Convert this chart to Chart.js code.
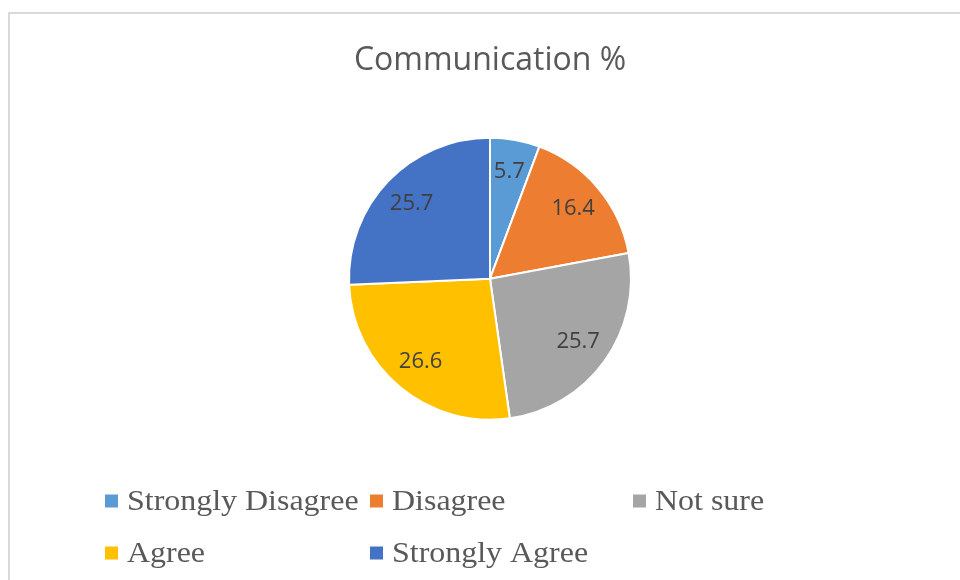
<!DOCTYPE html>
<html>
<head>
<meta charset="utf-8">
<title>Communication %</title>
<script src="https://cdn.jsdelivr.net/npm/chart.js@4/dist/chart.umd.min.js"></script>
<style>
  html, body { margin: 0; padding: 0; background: #fff; overflow: hidden; }
  .frame {
    position: absolute; left: 8px; top: 12px;
    width: 1000px; height: 620px;
    border-top: 2px solid #d9d9d9; border-left: 2px solid #d9d9d9;
  }
  #chart { position: absolute; left: 0; top: 0; }
</style>
</head>
<body>
<div class="frame"></div>
<canvas id="chart" width="960" height="580"></canvas>
<script>
// answers to the "communication" question, in percent
var categories = ['Strongly Disagree', 'Disagree', 'Not sure', 'Agree', 'Strongly Agree'];
var percents = [5.7, 16.4, 25.7, 26.6, 25.7];
var colors = ['#5B9BD5', '#ED7D31', '#A5A5A5', '#FFC000', '#4472C4'];

// value written inside each slice, toward the rim
var sliceLabels = {
    id: 'sliceLabels',
    afterDatasetsDraw: function (chart) {
        var ctx = chart.ctx;
        var meta = chart.getDatasetMeta(0);
        ctx.save();
        ctx.font = '22px "Open Sans"';
        ctx.fillStyle = '#404040';
        ctx.textAlign = 'center';
        ctx.textBaseline = 'middle';
        meta.data.forEach(function (arc, i) {
            var p = arc.getProps(['x', 'y', 'startAngle', 'endAngle', 'outerRadius'], true);
            var mid = (p.startAngle + p.endAngle) / 2;
            var r = p.outerRadius * 0.77;
            ctx.fillText(String(chart.data.datasets[0].data[i]), p.x + Math.cos(mid) * r, p.y + Math.sin(mid) * r);
        });
        ctx.restore();
    }
};

// legend laid out on a fixed grid, three items per row
var gridLegend = {
    id: 'gridLegend',
    afterDraw: function (chart) {
        var ctx = chart.ctx;
        var cols = [105, 370, 633];
        var rows = [501, 553];
        var ds = chart.data.datasets[0];
        ctx.save();
        ctx.font = '30px "Liberation Serif"';
        ctx.textBaseline = 'middle';
        chart.data.labels.forEach(function (label, i) {
            var x = cols[i % 3];
            var y = rows[Math.floor(i / 3)];
            ctx.fillStyle = ds.backgroundColor[i];
            ctx.fillRect(x, y - 6.5, 13, 13);
            // text is a touch wide in the original layout
            ctx.save();
            ctx.translate(x + 22, y + 1);
            ctx.scale(1.065, 1);
            ctx.fillStyle = '#595959';
            ctx.fillText(label, 0, 0);
            ctx.restore();
        });
        ctx.restore();
    }
};

var chart = new Chart(document.getElementById('chart'), {
    type: 'pie',
    data: {
        labels: categories,
        datasets: [{
            data: percents,
            backgroundColor: colors,
            borderColor: '#ffffff',
            borderWidth: 2
        }]
    },
    options: {
        responsive: false,
        animation: false,
        events: [],
        layout: { padding: { left: 348, right: 328, top: 12, bottom: 159 } },
        plugins: {
            legend: { display: false },
            tooltip: { enabled: false },
            title: {
                display: true,
                text: 'Communication %',
                color: '#595959',
                font: { family: '"Open Sans"', size: 32, weight: 'normal', lineHeight: 1.2 },
                padding: { top: 30, bottom: 56 }
            }
        }
    },
    plugins: [sliceLabels, gridLegend]
});
</script>
</body>
</html>
